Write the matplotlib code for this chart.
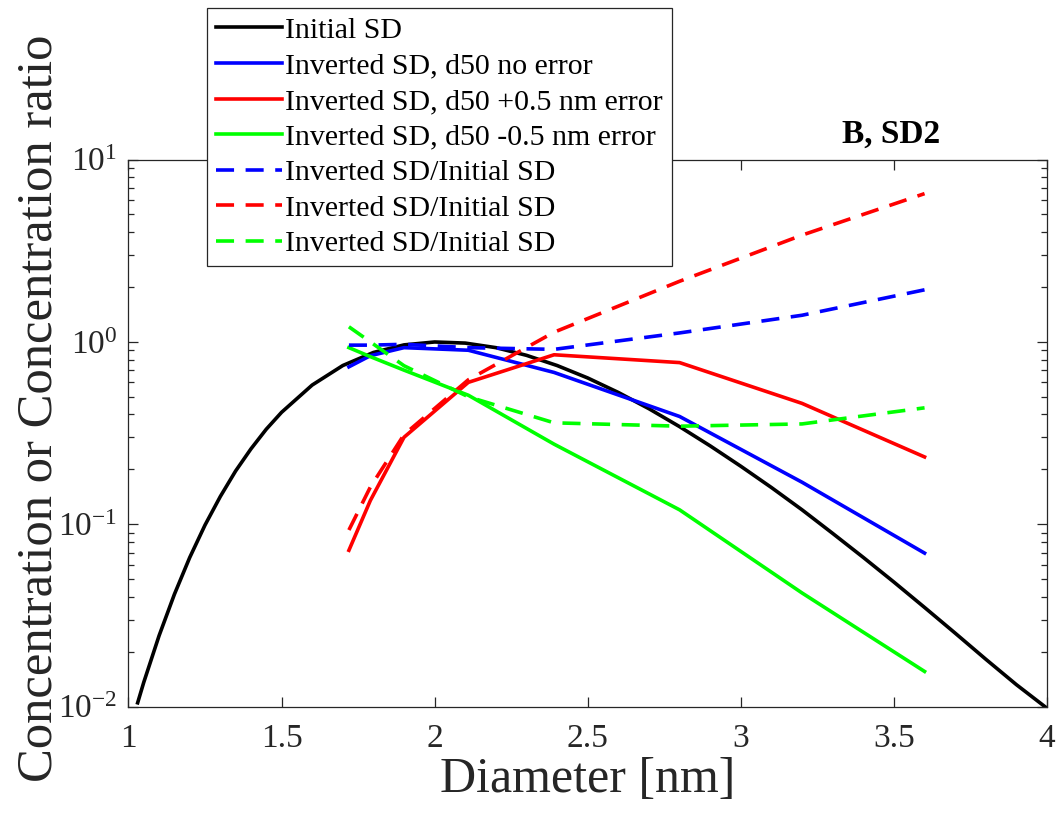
import matplotlib
matplotlib.use('Agg')
import matplotlib.pyplot as plt
from matplotlib.ticker import LogLocator, NullFormatter, FixedLocator

plt.rcParams['font.family'] = ['Liberation Serif', 'DejaVu Serif']
plt.rcParams['mathtext.fontset'] = 'custom'
plt.rcParams['mathtext.rm'] = 'Liberation Serif'
plt.rcParams['mathtext.it'] = 'Liberation Serif:italic'
plt.rcParams['axes.unicode_minus'] = False

# initial size distribution
d_init = [1.03, 1.05, 1.10, 1.15, 1.20, 1.25, 1.30, 1.35, 1.40, 1.45, 1.50, 1.60, 1.70,
          1.80, 1.90, 2.00, 2.10, 2.20, 2.30, 2.40, 2.50, 2.60, 2.70, 2.80, 2.90, 3.00,
          3.10, 3.20, 3.30, 3.40, 3.50, 3.60, 3.70, 3.80, 3.90, 4.00]
c_init = [0.0105, 0.0136, 0.0245, 0.0413, 0.0657, 0.0990, 0.142, 0.196, 0.259, 0.332,
          0.411, 0.580, 0.742, 0.875, 0.963, 0.999, 0.985, 0.930, 0.844, 0.742, 0.634,
          0.528, 0.430, 0.343, 0.269, 0.208, 0.159, 0.120, 0.0891, 0.0658, 0.0482,
          0.0350, 0.0253, 0.0182, 0.0132, 0.0098]

# inverted distributions at the channel diameters
d_inv = [1.72, 1.79, 1.90, 2.11, 2.39, 2.80, 3.20, 3.60]
inv_no_err = [0.73, 0.84, 0.93, 0.90, 0.68, 0.39, 0.17, 0.0695]
inv_plus = [0.072, 0.135, 0.30, 0.60, 0.85, 0.77, 0.46, 0.234]
inv_minus = [0.93, 0.83, 0.70, 0.51, 0.275, 0.12, 0.042, 0.0156]

# ratios inverted / initial
ratio_no_err = [0.96, 0.96, 0.97, 0.93, 0.91, 1.12, 1.40, 1.93]
ratio_plus = [0.093, 0.16, 0.31, 0.62, 1.13, 2.15, 3.85, 6.5]
ratio_minus = [1.21, 1.0, 0.74, 0.50, 0.36, 0.345, 0.355, 0.435]

fig = plt.figure(figsize=(10.59, 8.18), dpi=100)
ax = fig.add_axes([0.1213, 0.1361, 0.8674, 0.6689])

lw = 2.6
dash = (0, (5, 3.2))
l1, = ax.plot(d_init, c_init, color='black', lw=lw, label='Initial SD')
l2, = ax.plot(d_inv, inv_no_err, color=(0, 0, 1), lw=lw, label='Inverted SD, d50 no error')
l3, = ax.plot(d_inv, inv_plus, color=(1, 0, 0), lw=lw, label='Inverted SD, d50 +0.5 nm error')
l4, = ax.plot(d_inv, inv_minus, color=(0, 1, 0), lw=lw, label='Inverted SD, d50 -0.5 nm error')
l5, = ax.plot(d_inv, ratio_no_err, color=(0, 0, 1), lw=lw, ls=dash, label='Inverted SD/Initial SD')
l6, = ax.plot(d_inv, ratio_plus, color=(1, 0, 0), lw=lw, ls=dash, label='Inverted SD/Initial SD')
l7, = ax.plot(d_inv, ratio_minus, color=(0, 1, 0), lw=lw, ls=dash, label='Inverted SD/Initial SD')

ax.set_yscale('log')
ax.set_xlim(1, 4)
ax.set_ylim(1e-2, 1e1)
ax.xaxis.set_major_locator(FixedLocator([1, 1.5, 2, 2.5, 3, 3.5, 4]))
ax.set_xticklabels(['1', '1.5', '2', '2.5', '3', '3.5', '4'])
ax.yaxis.set_major_locator(LogLocator(base=10, numticks=10))
ax.yaxis.set_minor_locator(LogLocator(base=10, subs=range(2, 10), numticks=20))
ax.yaxis.set_minor_formatter(NullFormatter())

for s in ax.spines.values():
    s.set_color('#262626')
    s.set_linewidth(0.9)
ax.tick_params(which='both', direction='in', top=True, right=True, colors='#262626',
               labelcolor='#262626', labelsize=24)
ax.tick_params(which='major', length=7, width=0.9)
ax.tick_params(which='minor', length=4, width=0.9)
ax.tick_params(axis='x', pad=12)
ax.tick_params(axis='y', pad=8)

ax.set_xlabel('Diameter [nm]', fontsize=36, color='#262626', labelpad=2)
ax.set_ylabel('Concentration or Concentration ratio', fontsize=36.5, color='#262626')
ax.yaxis.set_label_coords(-0.072, 0.546)

ax.text(0.83, 1.03, 'B, SD2', transform=ax.transAxes, ha='center', va='baseline',
        fontsize=24, fontweight='bold')

leg = fig.legend(handles=[l1, l2, l3, l4, l5, l6, l7], loc='upper left',
                 bbox_to_anchor=(0.1955, 0.9902), fontsize=21.5, frameon=True,
                 fancybox=False, framealpha=1, edgecolor='#262626',
                 handlelength=2.2, handletextpad=0.12, labelspacing=0.29,
                 borderpad=0.3, borderaxespad=0)
leg.get_frame().set_linewidth(0.9)

fig.savefig('out.png', dpi=100)
